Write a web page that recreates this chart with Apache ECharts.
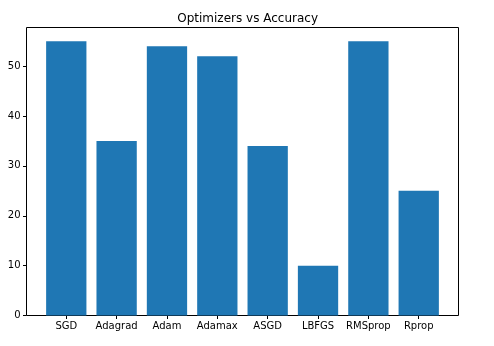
<!DOCTYPE html>
<html>
<head>
<meta charset="utf-8">
<script src="https://cdn.jsdelivr.net/npm/echarts@6/dist/echarts.min.js"></script>
<style>
  html, body { margin: 0; padding: 0; background: #fff; }
  #chart { width: 494px; height: 346px; }
</style>
</head>
<body>
<div id="chart"></div>
<script>
// Optimizer names and the accuracy reached by each
const optimizers = ['SGD', 'Adagrad', 'Adam', 'Adamax', 'ASGD', 'LBFGS', 'RMSprop', 'Rprop'];
const accuracy = [55, 35, 54, 52, 34, 10, 55, 25];
const yTicks = [0, 10, 20, 30, 40, 50];

const positions = optimizers.map((_, i) => i);
const barData = accuracy.map((v, i) => [i, v]);

const font = 'DejaVu Sans';
const chart = echarts.init(document.getElementById('chart'), null, { renderer: 'canvas' });

chart.setOption({
  animation: false,
  backgroundColor: '#ffffff',
  title: {
    text: 'Optimizers vs Accuracy',
    left: 242.6,
    textAlign: 'center',
    top: 8,
    textStyle: { fontFamily: font, fontSize: 12, fontWeight: 'normal', color: '#000' }
  },
  grid: {
    left: 26.5, right: 494 - 458.5, top: 27.5, bottom: 346 - 315.5,
    show: true, borderColor: '#000', borderWidth: 1, backgroundColor: 'transparent'
  },
  xAxis: {
    type: 'value',
    min: -0.79,
    max: 7.79,
    splitLine: { show: false },
    axisLine: { show: false, onZero: false },
    axisTick: { show: true, length: 3.5, lineStyle: { color: '#000' }, customValues: positions },
    axisLabel: {
      customValues: positions,
      margin: 6,
      fontFamily: font, fontSize: 10, color: '#000',
      formatter: v => optimizers[Math.round(v)]
    }
  },
  yAxis: {
    type: 'value',
    min: 0,
    max: 57.75,
    splitLine: { show: false },
    axisLine: { show: false, onZero: false },
    axisTick: { show: true, length: 3.5, lineStyle: { color: '#000' }, customValues: yTicks },
    axisLabel: {
      customValues: yTicks,
      margin: 6,
      fontFamily: font, fontSize: 10, color: '#000'
    }
  },
  series: [{
    type: 'bar',
    data: barData,
    barWidth: 40.3,
    itemStyle: { color: '#1f77b4' }
  }]
});
</script>
</body>
</html>
